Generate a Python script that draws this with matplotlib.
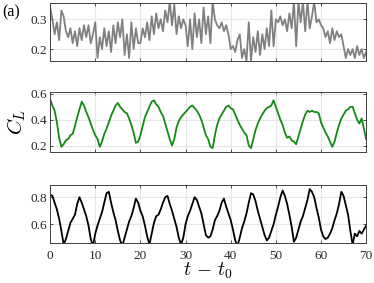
import numpy as np
import matplotlib
matplotlib.use("Agg")
import matplotlib.pyplot as plt

plt.rcParams['font.family'] = ['Liberation Serif', 'DejaVu Serif']
plt.rcParams['mathtext.fontset'] = 'cm'

# time axis, step 0.5
t = np.arange(0, 70.5, 0.5)

# top panel (gray)
top_vals = [
    0.34, 0.30, 0.25, 0.29, 0.23, 0.33, 0.31, 0.26, 0.24, 0.27,
    0.22, 0.26, 0.21, 0.27, 0.23, 0.28, 0.24, 0.28, 0.22, 0.25,
    0.29, 0.17, 0.24, 0.20, 0.27, 0.21, 0.26, 0.19, 0.28, 0.22,
    0.29, 0.24, 0.30, 0.18, 0.25, 0.17, 0.29, 0.20, 0.27, 0.22,
    0.22, 0.27, 0.24, 0.29, 0.23, 0.31, 0.25, 0.32, 0.27, 0.30,
    0.26, 0.33, 0.29, 0.36, 0.28, 0.35, 0.25, 0.31, 0.27, 0.30,
    0.28, 0.21, 0.30, 0.20, 0.32, 0.24, 0.30, 0.22, 0.34, 0.25,
    0.31, 0.22, 0.36, 0.30, 0.28, 0.27, 0.29, 0.26, 0.28, 0.25,
    0.20, 0.21, 0.19, 0.23, 0.25, 0.17, 0.20, 0.16, 0.29, 0.16,
    0.24, 0.19, 0.26, 0.18, 0.25, 0.20, 0.27, 0.21, 0.33, 0.21,
    0.30, 0.29, 0.31, 0.28, 0.30, 0.26, 0.32, 0.27, 0.36, 0.21,
    0.36, 0.29, 0.36, 0.26, 0.36, 0.27, 0.31, 0.36, 0.29, 0.30,
    0.28, 0.27, 0.24, 0.26, 0.22, 0.27, 0.23, 0.26, 0.24, 0.25,
    0.21, 0.17, 0.20, 0.18, 0.20, 0.17, 0.21, 0.18, 0.20, 0.17,
    0.19,
]

# middle panel, C_L (green)
cl_vals = [
    0.56, 0.51, 0.47, 0.38, 0.26, 0.19, 0.21, 0.24, 0.25, 0.28,
    0.29, 0.35, 0.42, 0.48, 0.54, 0.51, 0.46, 0.42, 0.37, 0.32,
    0.28, 0.25, 0.19, 0.23, 0.29, 0.33, 0.38, 0.43, 0.47, 0.51,
    0.53, 0.50, 0.48, 0.46, 0.45, 0.41, 0.36, 0.30, 0.22, 0.23,
    0.28, 0.35, 0.42, 0.46, 0.50, 0.54, 0.55, 0.52, 0.50, 0.46,
    0.43, 0.37, 0.31, 0.25, 0.20, 0.25, 0.34, 0.39, 0.42, 0.44,
    0.46, 0.48, 0.50, 0.51, 0.49, 0.47, 0.44, 0.40, 0.34, 0.28,
    0.25, 0.19, 0.18, 0.28, 0.36, 0.41, 0.44, 0.47, 0.50, 0.51,
    0.49, 0.48, 0.44, 0.40, 0.36, 0.33, 0.30, 0.28, 0.20, 0.18,
    0.25, 0.32, 0.37, 0.41, 0.44, 0.47, 0.49, 0.50, 0.51, 0.55,
    0.50, 0.45, 0.40, 0.36, 0.30, 0.26, 0.27, 0.24, 0.23, 0.21,
    0.27, 0.33, 0.39, 0.44, 0.47, 0.46, 0.47, 0.46, 0.46, 0.45,
    0.38, 0.34, 0.30, 0.27, 0.23, 0.19, 0.23, 0.30, 0.36, 0.41,
    0.44, 0.47, 0.48, 0.50, 0.50, 0.45, 0.40, 0.37, 0.41, 0.33,
    0.25,
]

# bottom panel (black)
bot_vals = [
    0.82, 0.81, 0.76, 0.71, 0.64, 0.55, 0.45, 0.49, 0.55, 0.61,
    0.64, 0.67, 0.75, 0.80, 0.76, 0.71, 0.66, 0.59, 0.49, 0.44,
    0.53, 0.59, 0.64, 0.69, 0.76, 0.83, 0.84, 0.76, 0.69, 0.63,
    0.55, 0.48, 0.44, 0.50, 0.56, 0.62, 0.66, 0.72, 0.79, 0.76,
    0.70, 0.66, 0.59, 0.51, 0.45, 0.53, 0.61, 0.66, 0.67, 0.71,
    0.76, 0.80, 0.81, 0.75, 0.70, 0.64, 0.58, 0.50, 0.45, 0.50,
    0.60, 0.66, 0.70, 0.75, 0.80, 0.78, 0.73, 0.68, 0.60, 0.52,
    0.50, 0.51, 0.56, 0.63, 0.66, 0.70, 0.76, 0.79, 0.73, 0.68,
    0.63, 0.56, 0.48, 0.44, 0.50, 0.57, 0.62, 0.68, 0.76, 0.83,
    0.82, 0.77, 0.70, 0.64, 0.58, 0.52, 0.48, 0.50, 0.55, 0.60,
    0.67, 0.73, 0.80, 0.85, 0.81, 0.75, 0.67, 0.58, 0.47, 0.50,
    0.56, 0.62, 0.66, 0.72, 0.78, 0.86, 0.84, 0.80, 0.72, 0.65,
    0.56, 0.51, 0.49, 0.50, 0.53, 0.57, 0.63, 0.68, 0.75, 0.84,
    0.81, 0.74, 0.67, 0.55, 0.45, 0.53, 0.51, 0.55, 0.53, 0.56,
    0.59,
]

panels = [
    (top_vals, '#808080', (0.16, 0.355), [0.2, 0.3]),
    (cl_vals, '#138a13', (0.15, 0.615), [0.2, 0.4, 0.6]),
    (bot_vals, 'black', (0.46, 0.89), [0.6, 0.8]),
]
rects = [
    [0.134, 0.7845, 0.845, 0.205],
    [0.134, 0.463, 0.845, 0.212],
    [0.134, 0.141, 0.845, 0.205],
]

fig = plt.figure(figsize=(3.74, 2.83), dpi=100)
axes = []
for (vals, col, ylim, yt), r in zip(panels, rects):
    ax = fig.add_axes(r)
    ax.plot(t, vals, color=col, lw=1.3)
    ax.set_xlim(0, 70)
    ax.set_ylim(*ylim)
    ax.set_yticks(yt)
    ax.set_yticklabels([f"{v:.1f}" for v in yt])
    ax.set_xticks(np.arange(0, 71, 10))
    ax.grid(True, color='#e6e6e6', lw=0.8)
    ax.set_axisbelow(True)
    ax.tick_params(direction='in', length=2.5, width=0.6, color='#333333',
                   labelsize=9.5, labelcolor='#262626', top=True, right=True, pad=2)
    ax.tick_params(axis='x', pad=5)
    for s in ax.spines.values():
        s.set_color('#404040')
        s.set_linewidth(0.7)
    axes.append(ax)

axes[0].tick_params(labelbottom=False)
axes[1].tick_params(labelbottom=False)
axes[1].set_ylabel(r'$C_L$', fontsize=15, labelpad=2)
axes[2].set_xlabel(r'$t\,-\,t_0$', fontsize=14, labelpad=-1)
fig.text(0.005, 0.955, '(a)', fontsize=11.5, va='center', ha='left')

fig.savefig('out.png', dpi=100)
